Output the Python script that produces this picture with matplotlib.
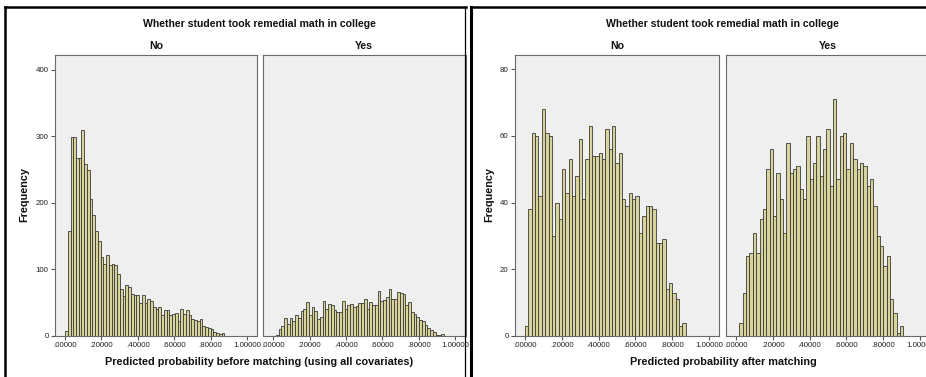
import numpy as np
import matplotlib
matplotlib.use('Agg')
from matplotlib import pyplot as plt
from matplotlib.lines import Line2D

plt.rcParams['font.family'] = ['Liberation Sans', 'DejaVu Sans']

# Histogram counts
before_no = [8, 158, 299, 299, 267, 267, 310, 258, 250, 205,
             182, 158, 142, 119, 108, 121, 106, 108, 106, 93,
             70, 60, 77, 73, 63, 62, 62, 50, 62, 50,
             55, 53, 44, 40, 44, 31, 39, 39, 32, 33,
             35, 22, 40, 33, 39, 31, 25, 24, 23, 25,
             15, 14, 12, 10, 6, 4, 3, 4]
before_yes = [2, 10, 15, 27, 18, 27, 22, 32, 27, 37,
              41, 51, 32, 44, 37, 25, 29, 52, 40, 48,
              46, 39, 36, 36, 53, 40, 46, 48, 43, 45,
              50, 49, 55, 40, 51, 47, 46, 67, 52, 54,
              58, 70, 56, 55, 66, 64, 63, 47, 51, 36,
              33, 29, 24, 22, 17, 12, 9, 6, 2, 2, 3]
after_no = [3, 38, 61, 60, 42, 68, 61, 60, 30, 40,
            35, 50, 43, 53, 42, 48, 59, 41, 53, 63,
            54, 54, 55, 53, 62, 56, 63, 52, 55, 41,
            39, 43, 41, 42, 31, 36, 39, 39, 38, 28,
            28, 29, 14, 16, 13, 11, 3, 4]
after_yes = [4, 13, 24, 25, 31, 25, 35, 38, 50, 56,
             36, 49, 41, 31, 58, 49, 50, 51, 44, 41,
             60, 47, 52, 60, 48, 56, 62, 45, 71, 47,
             60, 61, 50, 58, 53, 50, 52, 51, 45, 47,
             39, 30, 27, 21, 24, 11, 7, 1, 3]

# bin start / width for each histogram
before_width = 0.0151
before_start = {'No': 0.0, 'Yes': 0.0151}
after_width = 0.0182
after_start = {'No': 0.0, 'Yes': 0.0182}

xticks = [0.0, 0.2, 0.4, 0.6, 0.8, 1.0]
xticklabels = ['.00000', '.20000', '.40000', '.60000', '.80000', '1.00000']
groups = ['No', 'Yes']
title = 'Whether student took remedial math in college'

W, H = 926, 377
fig = plt.figure(figsize=(W / 100, H / 100), dpi=100)
fig.patch.set_facecolor('white')


def px_axes(x0, x1, top, bottom):
    return fig.add_axes([x0 / W, 1 - bottom / H, (x1 - x0) / W, (bottom - top) / H])


def draw_hist(ax, counts, start, width, ylim, yticks):
    counts = np.array(counts)
    left = start + width * np.arange(len(counts))
    ax.bar(left, counts, width=width, align='edge', color='#d8d29b',
           edgecolor='#3a3a3a', linewidth=0.6)
    ax.set_facecolor('#efefef')
    ax.set_xlim(-0.055, 1.055)
    ax.set_ylim(0, ylim)
    ax.set_xticks(xticks)
    ax.set_xticklabels(xticklabels)
    ax.set_yticks(yticks)
    ax.tick_params(axis='both', direction='out', length=3, width=0.8,
                   labelsize=5.7, colors='#555555', labelcolor='#222222', pad=1.5)
    for s in ax.spines.values():
        s.set_color('#6a6a6a')
        s.set_linewidth(0.8)


# chart 1: before matching
ax1 = px_axes(55, 257, 55, 336)
ax2 = px_axes(263, 465.5, 55, 336)
draw_hist(ax1, before_no, before_start['No'], before_width, 422, [0, 100, 200, 300, 400])
draw_hist(ax2, before_yes, before_start['Yes'], before_width, 422, [0, 100, 200, 300, 400])
ax2.set_yticks([])

# chart 2: after matching
ax3 = px_axes(515, 719, 55, 336)
ax4 = px_axes(726, 930, 55, 336)
draw_hist(ax3, after_no, after_start['No'], after_width, 84.3, [0, 20, 40, 60, 80])
draw_hist(ax4, after_yes, after_start['Yes'], after_width, 84.3, [0, 20, 40, 60, 80])
ax4.set_yticks([])

# texts
for cx in (259, 722):
    fig.text(cx / W, 1 - 24 / H, title, ha='center', va='center',
             fontsize=7.6, fontweight='bold', color='#111111')
for ax, g in zip([ax1, ax2, ax3, ax4], groups * 2):
    pos = ax.get_position()
    fig.text((pos.x0 + pos.x1) / 2, 1 - 46 / H, g, ha='center', va='center',
             fontsize=7.6, fontweight='bold', color='#111111')
fig.text(259 / W, 1 - 362 / H, 'Predicted probability before matching (using all covariates)',
         ha='center', va='center', fontsize=7.8, fontweight='bold', color='#111111')
fig.text(723 / W, 1 - 362 / H, 'Predicted probability after matching',
         ha='center', va='center', fontsize=7.8, fontweight='bold', color='#111111')
for x in (24, 489):
    fig.text(x / W, 1 - 195 / H, 'Frequency', rotation=90, ha='center', va='center',
             fontsize=7.8, fontweight='bold', color='#111111')

# black frames around the two charts
def fline(x0, y0, x1, y1, lw):
    fig.add_artist(Line2D([x0 / W, x1 / W], [1 - y0 / H, 1 - y1 / H],
                          transform=fig.transFigure, color='black', linewidth=lw))

fline(5, 7, 466, 7, 1.8)
fline(5, 7, 5, 377, 1.8)
fline(464.5, 7, 464.5, 377, 0.9)
fline(471, 7, 926, 7, 1.8)
fline(471, 7, 471, 377, 2.2)

plt.savefig('out.png', dpi=100)
